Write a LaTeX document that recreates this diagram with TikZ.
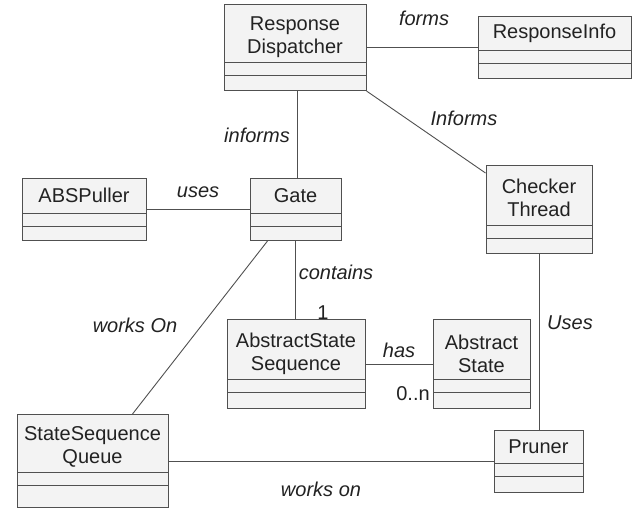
\documentclass[tikz,border=0pt]{standalone}
\usepackage{fontspec}
\setmainfont{Liberation Sans}
\usepackage{tikz}
\usetikzlibrary{positioning, calc}

\definecolor{linec}{HTML}{505050}
\definecolor{boxc}{HTML}{F3F3F3}
\definecolor{textc}{HTML}{222222}
\newcommand{\clsfont}{\fontsize{20}{23}\selectfont}
\newcommand{\lblfont}{\fontsize{20}{23}\selectfont\itshape}

\tikzset{
  cls/.style={draw=linec, fill=boxc, line width=1pt, inner sep=0pt, anchor=north,
    path picture={
      \draw[linec, line width=1pt] ([yshift=-#1]path picture bounding box.north west) -- ([yshift=-#1]path picture bounding box.north east);
      \draw[linec, line width=1pt] ([yshift=-#1-13pt]path picture bounding box.north west) -- ([yshift=-#1-13pt]path picture bounding box.north east);
    }},
  clsname/.style={font=\clsfont, text=textc, align=center, inner sep=0pt},
  rel/.style={draw=linec, line width=0.9pt},
  lbl/.style={font=\lblfont, text=textc, inner sep=0pt},
}

\begin{document}
\begin{tikzpicture}[x=1pt, y=-1pt]
  \useasboundingbox (0,0) rectangle (644,509);

  % classes
  \node[cls=58pt, minimum width=142pt, minimum height=86pt] (rd) at (295,4) {};
  \node[clsname] (rd-t) at ([yshift=-33pt]rd.north) {Response\\Dispatcher};
  \node[cls=34pt, minimum width=153pt, minimum height=62pt] (ri) at (554.5,16) {};
  \node[clsname] (ri-t) at ([yshift=-17pt]ri.north) {ResponseInfo};
  \node[cls=35pt, minimum width=124pt, minimum height=62pt] (abs) at (84,178) {};
  \node[clsname] (abs-t) at ([yshift=-17.5pt]abs.north) {ABSPuller};
  \node[cls=35pt, minimum width=91pt, minimum height=62pt] (gate) at (295.5,178) {};
  \node[clsname] (gate-t) at ([yshift=-17.5pt]gate.north) {Gate};
  \node[cls=60pt, minimum width=106pt, minimum height=88pt] (ct) at (539,165) {};
  \node[clsname] (ct-t) at ([yshift=-33pt]ct.north) {Checker\\Thread};
  \node[cls=60pt, minimum width=138pt, minimum height=89pt] (ass) at (296,319) {};
  \node[clsname] (ass-t) at ([yshift=-35pt]ass.north) {AbstractState\\Sequence};
  \node[cls=60pt, minimum width=97pt, minimum height=89pt] (as) at (481.5,319) {};
  \node[clsname] (as-t) at ([yshift=-35pt]as.north) {Abstract\\State};
  \node[cls=58pt, minimum width=151pt, minimum height=93pt] (ssq) at (92.5,414) {};
  \node[clsname] (ssq-t) at ([yshift=-33pt]ssq.north) {StateSequence\\Queue};
  \node[cls=33pt, minimum width=89pt, minimum height=62pt] (pruner) at (538.5,430) {};
  \node[clsname] (pruner-t) at ([yshift=-16.5pt]pruner.north) {Pruner};

  % associations
  \draw[rel] (rd.east) -- (rd.east -| ri.west);
  \draw[rel] ([xshift=2pt]rd.south) -- ([xshift=2pt]rd.south |- gate.north);
  \draw[rel] (rd.south east) -- ([yshift=-8pt]ct.north west);
  \draw[rel] (abs.east) -- (gate.west);
  \draw[rel] (gate.south) -- (gate.south |- ass.north);
  \draw[rel] ([xshift=18pt]gate.south west) -- ([xshift=116pt]ssq.north west);
  \draw[rel] (ass.east) -- (ass.east -| as.west);
  \draw[rel] (ct.south) -- (ct.south |- pruner.north);
  \draw[rel] (ssq.east) -- (ssq.east -| pruner.west);

  % labels
  \node[lbl] (l-forms) at (424,18) {forms};
  \node[lbl] (l-informs) at (257,135) {informs};
  \node[lbl] (l-Informs) at (464,118) {Informs};
  \node[lbl] (l-uses) at (198,192) {uses};
  \node[lbl] (l-contains) at (336,272) {contains};
  \node[clsname] (l-one) at (323,313) {1};
  \node[lbl] (l-has) at (399,350) {has};
  \node[clsname] (l-many) at (413,394) {0..n};
  \node[lbl] (l-workson) at (135,325) {works On};
  \node[lbl] (l-uses2) at (570,323) {Uses};
  \node[lbl] (l-workson2) at (321,489) {works on};
\end{tikzpicture}
\end{document}
